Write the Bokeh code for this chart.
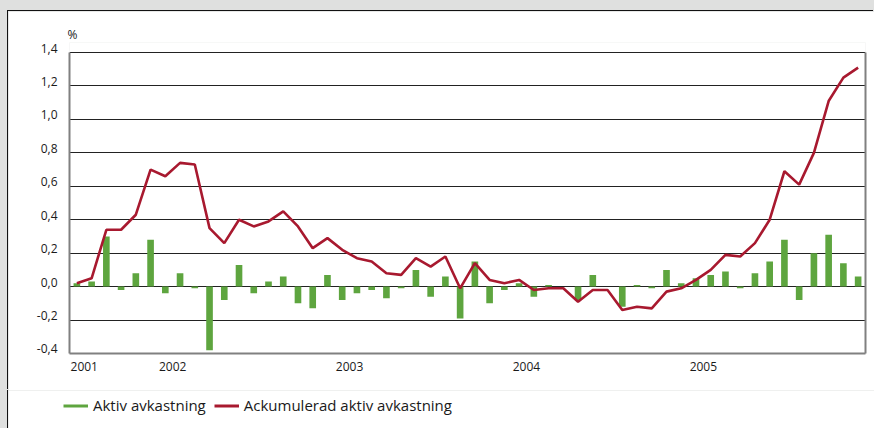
import numpy as np
from bokeh.plotting import figure
from bokeh.models import (FixedTicker, Legend, LegendItem, CustomJSTickFormatter,
                          LinearAxis, Range1d)
from bokeh.layouts import column
from bokeh.embed import file_html
from bokeh.resources import INLINE

# ---- data (monthly, Jun 2001 - Nov 2005) ----
aktiv = [0.02, 0.03, 0.30, -0.02, 0.08, 0.28, -0.04, 0.08, -0.01, -0.38,
         -0.08, 0.13, -0.04, 0.03, 0.06, -0.10, -0.13, 0.07, -0.08, -0.04,
         -0.02, -0.07, -0.01, 0.10, -0.06, 0.06, -0.19, 0.15, -0.10, -0.02,
         0.02, -0.06, 0.01, 0.00, -0.08, 0.07, 0.00, -0.12, 0.01, -0.01,
         0.10, 0.02, 0.05, 0.07, 0.09, -0.01, 0.08, 0.15, 0.28, -0.08,
         0.20, 0.31, 0.14, 0.06]
ackumulerad = [0.02, 0.05, 0.34, 0.34, 0.43, 0.70, 0.66, 0.74, 0.73, 0.35,
               0.26, 0.40, 0.36, 0.39, 0.45, 0.36, 0.23, 0.29, 0.22, 0.17,
               0.15, 0.08, 0.07, 0.17, 0.12, 0.18, -0.01, 0.14, 0.04, 0.02,
               0.04, -0.02, -0.01, -0.01, -0.09, -0.02, -0.02, -0.14, -0.12, -0.13,
               -0.03, -0.01, 0.04, 0.10, 0.19, 0.18, 0.26, 0.40, 0.69, 0.61,
               0.80, 1.11, 1.25, 1.31]
year_labels = ["2001", "2002", "2003", "2004", "2005"]
year_ticks = [1, 7, 19, 31, 43]          # month-slot index where label sits
y_ticks = [-0.4, -0.2, 0.0, 0.2, 0.4, 0.6, 0.8, 1.0, 1.2, 1.4]
series_names = ["Aktiv avkastning", "Ackumulerad aktiv avkastning"]
unit_label = "%"

GREEN = "#5ea53f"
RED = "#a8192f"
GRAY = "#808080"
FONT = "Open Sans"
Y0, Y1 = y_ticks[0], y_ticks[-1]
HEADROOM = 0.06      # small blank band above the top gridline (room for the top label)
LABEL_LIFT = 0.027   # tick labels sit just above their gridline (style offset)

n = len(aktiv)
x = np.arange(n) + 0.5

p = figure(width=866, height=379, x_range=(0, n), y_range=(Y0, Y1 + HEADROOM),
           output_backend="svg", toolbar_location=None,
           min_border_left=61, min_border_right=9, min_border_top=31,
           min_border_bottom=37)
p.margin = (11, 0, 0, 8)
p.styles = {"box-shadow": "-1px -1px 0 #111111"}
p.background_fill_color = "white"
p.border_fill_color = "white"
p.outline_line_color = None

# unit label above the y axis
p.title.text = unit_label
p.title.align = "left"
p.title.offset = -2
p.title.standoff = 0
p.title.text_font = FONT
p.title.text_font_size = "12px"
p.title.text_font_style = "normal"
p.title.text_color = "#1a1a1a"

bars = p.vbar(x=x, top=aktiv, width=0.45, color=GREEN, line_color=None)
r_line = p.line(x=x, y=ackumulerad, line_color=RED, line_width=2.6)

# x axis
p.xaxis.ticker = FixedTicker(ticks=year_ticks)
p.xaxis.major_label_overrides = {t: lab for t, lab in zip(year_ticks, year_labels)}
p.xaxis.major_label_standoff = 8
p.xaxis.axis_line_color = GRAY
p.xaxis.axis_line_width = 2

# left frame line (bounded to the gridded area)
p.yaxis.ticker = FixedTicker(ticks=[])
p.yaxis.bounds = (Y0, Y1)
p.yaxis.axis_line_color = GRAY
p.yaxis.axis_line_width = 2
p.yaxis.major_label_standoff = 0
p.yaxis.major_tick_out = 0
p.yaxis.major_tick_in = 0
p.yaxis.minor_tick_line_color = None

# right frame line
raxis = LinearAxis(ticker=FixedTicker(ticks=[]), bounds=(Y0, Y1),
                   axis_line_color=GRAY, axis_line_width=2, major_label_standoff=0,
                   major_tick_out=0, major_tick_in=0, minor_tick_line_color=None)
p.add_layout(raxis, "right")

# y tick labels on a slightly lifted copy of the range
p.extra_y_ranges = {"lab": Range1d(Y0 - LABEL_LIFT, Y1 + HEADROOM - LABEL_LIFT)}
yax = LinearAxis(y_range_name="lab", ticker=FixedTicker(ticks=y_ticks),
                 formatter=CustomJSTickFormatter(code="return tick.toFixed(1).replace('.', ',');"))
yax.major_label_standoff = 12
yax.axis_line_color = None
p.add_layout(yax, "left")

for ax in (p.xaxis[0], yax):
    ax.major_tick_line_color = None
    ax.minor_tick_line_color = None
    ax.major_tick_out = 0
    ax.major_tick_in = 0
    ax.major_label_text_font = FONT
    ax.major_label_text_font_size = "12px"
    ax.major_label_text_color = "#1a1a1a"

p.xgrid.visible = False
p.ygrid.ticker = FixedTicker(ticks=y_ticks)
p.ygrid.grid_line_color = "#222222"
p.ygrid.grid_line_width = 1.2

# ---- legend strip below the chart ----
pl = figure(width=866, height=38, x_range=(0, 1), y_range=(0, 1),
            x_axis_type=None, y_axis_type=None, output_backend="svg",
            toolbar_location=None, min_border=0)
try:
    pl.frame_align = False
except Exception:
    pass
pl.margin = (0, 0, 0, 8)
pl.styles = {"box-shadow": "-1px 0 0 #111111"}
pl.outline_line_color = None
pl.background_fill_color = "white"
pl.border_fill_color = "white"
pl.grid.visible = False
g_icon = pl.line(x=[np.nan], y=[np.nan], line_color=GREEN, line_width=3)
r_icon = pl.line(x=[np.nan], y=[np.nan], line_color=RED, line_width=3)
legend = Legend(items=[LegendItem(label=series_names[0], renderers=[g_icon]),
                       LegendItem(label=series_names[1], renderers=[r_icon])],
                orientation="horizontal", location=(55, 13), padding=0, margin=0,
                spacing=8, label_standoff=5, glyph_width=25, glyph_height=15,
                label_text_font=FONT, label_text_font_size="15px",
                label_text_color="#1a1a1a", border_line_color=None,
                background_fill_alpha=0)
pl.add_layout(legend, "center")

layout = column(p, pl, spacing=0, styles={"background-color": "#dfe0df"})
open("out.html", "w").write(file_html(layout, INLINE))
